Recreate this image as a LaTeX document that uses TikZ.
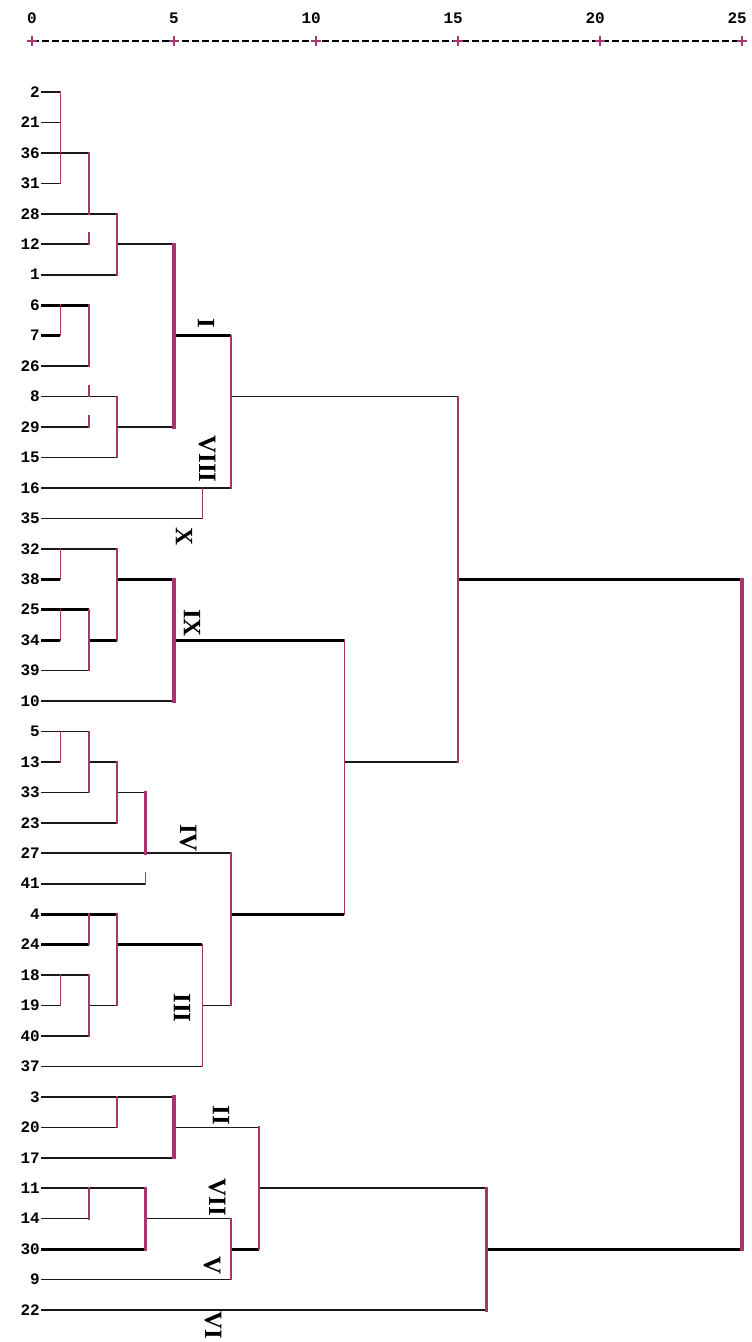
\documentclass[tikz,border=0pt]{standalone}
\usepackage{fontspec}
\setmainfont{Liberation Serif}
\setmonofont{Liberation Mono}
\usetikzlibrary{positioning,calc}
\definecolor{vpink}{RGB}{165,55,110}

\begin{document}
\begin{tikzpicture}[x=1pt,y=-1pt,
  leaf/.style={anchor=east,inner sep=1pt,font=\ttfamily\bfseries\fontsize{16}{16}\selectfont},
  hl/.style={line width=1.6pt,black!90},
  hlb/.style={line width=3.2pt,black},
  vl/.style={line width=1.7pt,vpink,line cap=rect},
  vlb/.style={line width=3.2pt,vpink,line cap=rect},
  grp/.style={rotate=-90,inner sep=0pt,font=\bfseries\fontsize{25}{25}\selectfont}]
\useasboundingbox (0,0) rectangle (752,1342);
\foreach \d in {0,...,25} {
  \coordinate (d\d) at ({32+28.4*\d},0);
  \coordinate (a\d) at ({32+28.4*\d},41);
}
\foreach \n [count=\i from 0] in {2,21,36,31,28,12,1,6,7,26,8,29,15,16,35,32,38,25,34,39,10,
  5,13,33,23,27,41,4,24,18,19,40,37,3,20,17,11,14,30,9,22}
  \node[leaf] (l\n) at (41,{92+30.45*\i}) {\n};
\draw[dash pattern=on 7pt off 3pt,line width=1.4pt] (a0) -- (a25);
\foreach \d in {0,5,...,25} {
  \node[leaf] (t\d) at ($(a\d)+(6,-23)$) {\d};
  \draw[vpink,line width=2pt] (a\d) ++(-5,0) -- ++(10,0) (a\d) ++(0,-5) -- ++(0,10);
}
\foreach \n/\d in {2/1,21/1,36/2,31/1,28/3,12/2,1/3,26/2,8/3,29/2,15/3,16/7,35/6,32/3,39/2,10/5,
  5/2,13/1,33/2,23/3,27/7,41/4,18/2,19/1,40/2,37/6,3/5,20/3,17/5,11/4,14/2,9/7,22/16}
  \draw[hl] (l\n.east) -- (l\n.east -| d\d);
\foreach \n/\d in {6/2,7/1,38/1,25/2,34/1,4/3,24/2,30/4}
  \draw[hlb] (l\n.east) -- (l\n.east -| d\d);
\foreach \r/\a/\b in {12/3/5,29/3/5,8/7/15,13/2/3,33/3/4,13/11/15,19/2/3,19/6/7,20/5/8,14/4/7,11/8/16}
  \draw[hl] (l\r.east -| d\a) -- (l\r.east -| d\b);
\foreach \r/\a/\b in {7/5/7,38/3/5,34/2/3,34/5/11,4/7/11,24/3/6,30/7/8,30/16/25,38/15/25}
  \draw[hlb] (l\r.east -| d\a) -- (l\r.east -| d\b);
\foreach \d/\a/\b in {1/2/31,2/36/28,3/28/1,1/6/7,2/6/26,3/8/15,7/7/16,6/16/35,15/8/13,1/32/38,
  3/32/34,1/25/34,2/25/39,11/34/4,1/5/13,2/5/33,3/13/23,7/27/19,2/4/24,3/4/19,6/24/37,1/18/19,
  2/18/40,3/3/20,8/20/30,2/11/14,7/14/9}
  \draw[vl] (l\a.east -| d\d) -- (l\b.east -| d\d);
\foreach \d/\a/\b in {5/12/29,5/38/10,4/33/27,5/3/17,4/11/30,16/11/22,25/38/30}
  \draw[vlb] (l\a.east -| d\d) -- (l\b.east -| d\d);
\foreach \n/\d in {12/2,8/2,29/2,41/4}
  \draw[vl] (l\n.east -| d\d) -- ++(0,-11);
\node[grp] (gI) at (206,323) {I};
\node[grp] (gVIII) at (207,459) {VIII};
\node[grp] (gX) at (184,537) {X};
\node[grp] (gIX) at (192,623) {IX};
\node[grp] (gIV) at (188,838) {IV};
\node[grp] (gIII) at (182,1008) {III};
\node[grp] (gII) at (221,1115) {II};
\node[grp] (gVII) at (217,1197) {VII};
\node[grp] (gV) at (212,1266) {V};
\node[grp] (gVI) at (213,1325) {VI};
\end{tikzpicture}
\end{document}
